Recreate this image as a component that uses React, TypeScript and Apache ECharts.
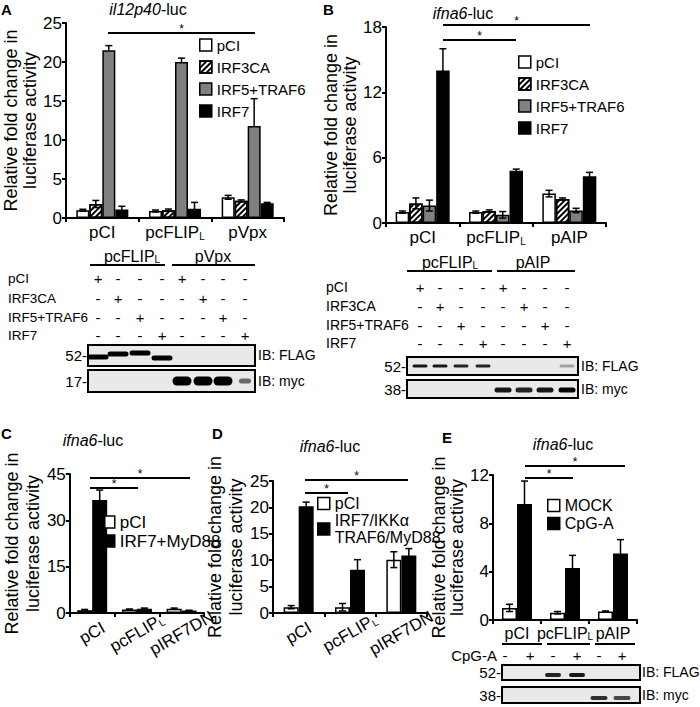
import React, { useEffect, useRef } from 'react';
import * as echarts from 'echarts';

const FONT = '"Liberation Sans", Arial, Helvetica, sans-serif';

// ---------- Panel A (il12p40-luc) ----------
const namesAB = ['pCI', 'IRF3CA', 'IRF5+TRAF6', 'IRF7'];
const catsA = ['pCI', 'pcFLIPL', 'pVpx'];
const aPCI = [1.0, 0.9, 2.65];
const aPCIErr = [0.12, 0.12, 0.25];
const aIRF3CA = [1.8, 1.0, 2.2];
const aIRF3CAErr = [0.45, 0.15, 0.12];
const aIRF5 = [21.5, 20.0, 11.8];
const aIRF5Err = [0.6, 0.5, 3.5];
const aIRF7 = [1.1, 1.2, 1.9];
const aIRF7Err = [0.4, 0.8, 0.1];

// ---------- Panel B (ifna6-luc) ----------
const catsB = ['pCI', 'pcFLIPL', 'pAIP'];
const bPCI = [1.0, 1.0, 2.7];
const bPCIErr = [0.1, 0.1, 0.3];
const bIRF3CA = [1.8, 1.1, 2.2];
const bIRF3CAErr = [0.5, 0.1, 0.1];
const bIRF5 = [1.6, 0.75, 1.15];
const bIRF5Err = [0.5, 0.3, 0.2];
const bIRF7 = [14.0, 4.8, 4.3];
const bIRF7Err = [2.0, 0.15, 0.35];

// ---------- Panel C ----------
const namesC = ['pCI', 'IRF7+MyD88'];
const catsC = ['pCI', 'pcFLIPL', 'pIRF7DN'];
const cPCI = [0.9, 1.1, 1.4];
const cPCIErr = [0.25, 0.2, 0.2];
const cIRF7 = [36.6, 1.4, 0.8];
const cIRF7Err = [3.2, 0.2, 0.1];

// ---------- Panel D ----------
const namesD = ['pCI', 'IRF7/IKKα\nTRAF6/MyD88'];
const catsD = ['pCI', 'pcFLIPL', 'pIRF7DN'];
const dPCI = [1.1, 1.1, 10.1];
const dPCIErr = [0.3, 0.7, 1.5];
const dIRF7 = [20.2, 8.2, 10.9];
const dIRF7Err = [0.8, 1.9, 1.3];

// ---------- Panel E ----------
const namesE = ['MOCK', 'CpG-A'];
const catsE = ['pCI', 'pcFLIPL', 'pAIP'];
const eMOCK = [1.0, 0.6, 0.7];
const eMOCKErr = [0.3, 0.1, 0.05];
const eCpG = [9.6, 4.3, 5.5];
const eCpGErr = [1.9, 1.05, 1.15];

// ---------- Blots ----------
const blotRowsAB = ['pCI', 'IRF3CA', 'IRF5+TRAF6', 'IRF7'];
const blotSignsAB = [
  ['+', '-', '-', '-', '+', '-', '-', '-'],
  ['-', '+', '-', '-', '-', '+', '-', '-'],
  ['-', '-', '+', '-', '-', '-', '+', '-'],
  ['-', '-', '-', '+', '-', '-', '-', '+'],
];
const blotSignsE = ['-', '+', '-', '+', '-', '+'];
const aFlag = [1, 1, 1, 1, 0, 0, 0, 0];
const aMyc = [0, 0, 0, 0, 1, 1, 1, 0.55];
const bFlag = [0.9, 0.9, 0.85, 0.85, 0, 0, 0, 0.3];
const bMyc = [0, 0, 0, 0, 0.9, 0.85, 0.9, 1];
const eFlag = [0, 0, 0.85, 0.9, 0, 0];
const eMyc = [0, 0, 0, 0, 0.8, 0.7];

const styleWhite = { color: '#ffffff', borderColor: '#000', borderWidth: 1.5 };
const styleHatch = {
  color: '#ffffff', borderColor: '#000', borderWidth: 1.5,
  decal: { symbol: 'rect', symbolSize: 1, color: '#000', dashArrayX: [1, 0], dashArrayY: [1.5, 2], rotation: -Math.PI / 4 },
};
const styleGrey = { color: '#808080', borderColor: '#000', borderWidth: 1.5 };
const styleBlack = { color: '#000000', borderColor: '#000', borderWidth: 1.5 };

function panelSeries(g: number, names: string[], vals: number[][], errs: number[][], styles: any[], barW: number, lowerOk: boolean[]) {
  const out: any[] = [];
  const n = names.length;
  names.forEach((nm, j) => {
    out.push({
      type: 'bar', name: nm, xAxisIndex: g, yAxisIndex: g, data: vals[j],
      barWidth: barW, barGap: '0%', itemStyle: styles[j], z: 2,
    });
  });
  names.forEach((nm, j) => {
    const off = (j - (n - 1) / 2) * barW;
    out.push({
      type: 'custom', name: 'err' + g + '_' + j, xAxisIndex: g, yAxisIndex: g, z: 5,
      data: vals[j].map((v, i) => [i, v, errs[j][i]]),
      renderItem: (params: any, api: any) => {
        const i = api.value(0), v = api.value(1), e = api.value(2);
        const c = api.coord([i, v]);
        const t = api.coord([i, v + e]);
        const b = api.coord([i, Math.max(0, v - e)]);
        const x = c[0] + off;
        const st = { stroke: '#000', lineWidth: 1.5 };
        const ch: any[] = [
          { type: 'line', shape: { x1: x, y1: t[1], x2: x, y2: lowerOk[j] ? b[1] : c[1] }, style: st },
          { type: 'line', shape: { x1: x - 3.5, y1: t[1], x2: x + 3.5, y2: t[1] }, style: st },
        ];
        if (lowerOk[j]) ch.push({ type: 'line', shape: { x1: x - 3.5, y1: b[1], x2: x + 3.5, y2: b[1] }, style: st });
        return { type: 'group', children: ch };
      },
    });
  });
  return out;
}

const catFmt = (v: string) => (v === 'pcFLIPL' ? '{a|pcFLIP}{s|L}' : '{a|' + v + '}');

function xAx(g: number, cats: string[], rotate: number, size: number, margin: number) {
  return {
    gridIndex: g, type: 'category', data: cats,
    axisLine: { show: true, lineStyle: { color: '#000', width: 2 } },
    axisTick: { show: true, length: 4, lineStyle: { color: '#000', width: 2 } },
    axisLabel: {
      interval: 0, rotate, margin, color: '#000', fontFamily: FONT, formatter: catFmt,
      align: rotate ? 'center' : undefined, verticalAlign: rotate ? 'middle' : undefined,
      rich: {
        a: { fontSize: size, fontFamily: FONT, color: '#000' },
        s: { fontSize: 10, fontFamily: FONT, color: '#000', verticalAlign: 'bottom', lineHeight: 12 },
      },
    },
  };
}
function yAx(g: number, max: number, interval: number, gap: number, lh: number) {
  return {
    gridIndex: g, type: 'value', min: 0, max, interval,
    axisLine: { show: true, lineStyle: { color: '#000', width: 2 } },
    axisTick: { show: true, length: 4, lineStyle: { color: '#000', width: 2 } },
    splitLine: { show: false },
    axisLabel: { fontSize: 17, color: '#000', fontFamily: FONT, margin: 4 },
    name: 'Relative fold change in\nluciferase activity', nameLocation: 'middle', nameRotate: 90, nameGap: gap,
    nameTextStyle: { fontSize: 18, lineHeight: lh, fontFamily: FONT, color: '#000' },
  };
}

function legend(left: number, top: number, names: string[], size: number, gap: number, iw = 12) {
  return {
    left, top, padding: 0, orient: 'vertical', itemWidth: iw, itemHeight: 12, itemGap: gap, selectedMode: false,
    icon: 'rect', data: names,
    itemStyle: { borderColor: '#000', borderWidth: 1.5 },
    textStyle: { fontSize: size, fontFamily: FONT, color: '#000', lineHeight: size + 1 },
  };
}

const T = (x: number, y: number, text: string, o: any = {}) => ({
  type: 'text', x, y, silent: true,
  style: {
    text, fontSize: o.size ?? 15, fontFamily: FONT, fontWeight: o.weight ?? 'normal', fontStyle: o.style ?? 'normal',
    fill: '#000', align: o.align ?? 'left', textAlign: o.align ?? 'left', verticalAlign: 'middle', textVerticalAlign: 'middle',
    rich: o.rich,
  },
});
const L = (x1: number, y1: number, x2: number, y2: number, w = 2) => ({
  type: 'line', silent: true, shape: { x1, y1, x2, y2 }, style: { stroke: '#000', lineWidth: w },
});
const R = (x: number, y: number, w: number, h: number) => ({
  type: 'rect', silent: true, shape: { x, y, width: w, height: h }, style: { fill: '#e9e9e9', stroke: '#000', lineWidth: 2 },
});
const band = (cx: number, cy: number, w: number, h: number, a: number) => ({
  type: 'rect', silent: true, shape: { x: cx - w / 2, y: cy - h / 2, width: w, height: h, r: h / 2 },
  style: { fill: `rgba(0,0,0,${a})` },
});

const subRich = {
  a: { fontSize: 16, fontFamily: FONT, fill: '#000', color: '#000' },
  s: { fontSize: 10, fontFamily: FONT, fill: '#000', color: '#000', verticalAlign: 'bottom', lineHeight: 12 },
};
const titleRich = (size: number) => ({
  i: { fontSize: size, fontFamily: FONT, fontStyle: 'italic', color: '#000', fill: '#000' },
  n: { fontSize: size, fontFamily: FONT, color: '#000', fill: '#000' },
});

function buildGraphics() {
  const g: any[] = [];
  // panel letters
  g.push(T(1, 9, 'A', { weight: 'bold', size: 15 }));
  g.push(T(323, 9, 'B', { weight: 'bold', size: 15 }));
  g.push(T(1, 433, 'C', { weight: 'bold', size: 15 }));
  g.push(T(212, 433, 'D', { weight: 'bold', size: 15 }));
  g.push(T(442, 437, 'E', { weight: 'bold', size: 15 }));
  // titles
  g.push(T(148, 9, '{i|il12p40}{n|-luc}', { align: 'center', rich: titleRich(16) }));
  g.push(T(463, 13, '{i|ifna6}{n|-luc}', { align: 'center', rich: titleRich(16) }));
  g.push(T(93, 440, '{i|ifna6}{n|-luc}', { align: 'center', rich: titleRich(16) }));
  g.push(T(330, 446, '{i|ifna6}{n|-luc}', { align: 'center', rich: titleRich(16) }));
  g.push(T(563, 444, '{i|ifna6}{n|-luc}', { align: 'center', rich: titleRich(16) }));
  // significance brackets
  const sig = (x1: number, x2: number, y: number) => {
    g.push(L(x1, y, x2, y, 2));
    g.push(T((x1 + x2) / 2, y - 4.5, '*', { align: 'center', size: 12 }));
  };
  sig(108, 255, 33);
  sig(443, 590, 25); sig(443, 516, 40);
  sig(90, 190, 478); sig(90, 138, 488);
  sig(305, 408, 480); sig(305, 348, 493);
  sig(525, 625, 466); sig(525, 573, 478);

  // ---- Blot A ----
  g.push(T(132, 256, '{a|pcFLIP}{s|L}', { align: 'center', rich: subRich }));
  g.push(T(213, 256, 'pVpx', { align: 'center', size: 16 }));
  g.push(L(90, 265, 165, 265)); g.push(L(172, 265, 255, 265));
  const lanesA = [98, 118, 140, 162, 182, 203, 223, 245];
  const rowsAy = [278, 298, 317, 335];
  blotRowsAB.forEach((r, i) => {
    g.push(T(8, rowsAy[i], r, { size: 13.5 }));
    blotSignsAB[i].forEach((s, k) => g.push(T(lanesA[k], rowsAy[i], s, { align: 'center', size: 15 })));
  });
  g.push(R(88, 345, 167, 21)); g.push(R(88, 370, 167, 22));
  g.push(T(87, 355, '52-', { align: 'right', size: 15 }));
  g.push(T(87, 381, '17-', { align: 'right', size: 15 }));
  g.push(T(258, 355, 'IB: FLAG', { size: 14 }));
  g.push(T(258, 381, 'IB: myc', { size: 14 }));
  const flagAy = [357, 354, 353, 358];
  aFlag.forEach((a, k) => { if (a > 0) g.push(band(lanesA[k], flagAy[k] ?? 355, 21, 5, a)); });
  aMyc.forEach((a, k) => { if (a > 0) g.push(band(lanesA[k], 381, a < 1 ? 12 : 19, a < 1 ? 5 : 9, a)); });

  // ---- Blot B ----
  g.push(T(450, 262, '{a|pcFLIP}{s|L}', { align: 'center', rich: subRich }));
  g.push(T(533, 262, 'pAIP', { align: 'center', size: 16 }));
  g.push(L(407, 271, 492, 271)); g.push(L(497, 271, 575, 271));
  const lanesB = [420, 440, 461, 483, 503, 524, 545, 567];
  const rowsBy = [287, 306, 325, 343];
  blotRowsAB.forEach((r, i) => {
    g.push(T(326, rowsBy[i], r, { size: 14 }));
    blotSignsAB[i].forEach((s, k) => g.push(T(lanesB[k], rowsBy[i], s, { align: 'center', size: 15 })));
  });
  g.push(R(407, 357, 171, 18)); g.push(R(407, 380, 171, 18));
  g.push(T(406, 366, '52-', { align: 'right', size: 15 }));
  g.push(T(406, 389, '38-', { align: 'right', size: 15 }));
  g.push(T(581, 366, 'IB: FLAG', { size: 14 }));
  g.push(T(581, 389, 'IB: myc', { size: 14 }));
  bFlag.forEach((a, k) => { if (a > 0) g.push(band(lanesB[k], 366, 15, 3, a)); });
  bMyc.forEach((a, k) => { if (a > 0) g.push(band(lanesB[k], 390, 17, 5, a)); });

  // ---- Blot E ----
  const lanesE = [505, 530, 553, 577, 599, 622];
  g.push(L(502, 644, 542, 644)); g.push(L(547, 644, 590, 644)); g.push(L(595, 644, 635, 644));
  g.push(T(497, 655, 'CpG-A', { align: 'right', size: 15 }));
  blotSignsE.forEach((s, k) => g.push(T(lanesE[k], 655, s, { align: 'center', size: 15 })));
  g.push(R(502, 665, 138, 15)); g.push(R(502, 687, 138, 16));
  g.push(T(501, 672, '52-', { align: 'right', size: 15 }));
  g.push(T(501, 695, '38-', { align: 'right', size: 15 }));
  g.push(T(642, 672, 'IB: FLAG', { size: 14 }));
  g.push(T(642, 695, 'IB: myc', { size: 14 }));
  eFlag.forEach((a, k) => { if (a > 0) g.push(band(lanesE[k], 675, 16, 4, a)); });
  eMyc.forEach((a, k) => { if (a > 0) g.push(band(lanesE[k], 698, 17, 4, a)); });
  return g;
}

export default function App() {
  const ref = useRef<HTMLDivElement>(null);
  useEffect(() => {
    if (!ref.current) return;
    const chart = echarts.init(ref.current, null, { renderer: 'svg' });
    const series = [
      ...panelSeries(0, namesAB, [aPCI, aIRF3CA, aIRF5, aIRF7], [aPCIErr, aIRF3CAErr, aIRF5Err, aIRF7Err],
        [styleWhite, styleHatch, styleGrey, styleBlack], 13, [true, true, false, true]),
      ...panelSeries(1, namesAB, [bPCI, bIRF3CA, bIRF5, bIRF7], [bPCIErr, bIRF3CAErr, bIRF5Err, bIRF7Err],
        [styleWhite, styleHatch, styleGrey, styleBlack], 13.5, [true, true, true, true]),
      ...panelSeries(2, namesC, [cPCI, cIRF7], [cPCIErr, cIRF7Err], [styleWhite, styleBlack], 15, [true, true]),
      ...panelSeries(3, namesD, [dPCI, dIRF7], [dPCIErr, dIRF7Err], [styleWhite, styleBlack], 15, [true, true]),
      ...panelSeries(4, namesE, [eMOCK, eCpG], [eMOCKErr, eCpGErr], [styleWhite, styleBlack], 15, [true, true]),
    ];
    chart.setOption({
      animation: false,
      backgroundColor: '#ffffff',
      grid: [
        { left: 66, top: 23, width: 218, height: 195 },
        { left: 386, top: 27, width: 220, height: 196 },
        { left: 60, top: 474, width: 144, height: 139 },
        { left: 273, top: 481, width: 154, height: 132 },
        { left: 493, top: 475, width: 144, height: 145 },
      ],
      xAxis: [
        xAx(0, catsA, 0, 17, 6),
        xAx(1, catsB, 0, 17, 6),
        xAx(2, catsC, 30, 17, 20),
        xAx(3, catsD, 30, 17, 20),
        xAx(4, catsE, 0, 16, 5),
      ],
      yAxis: [
        yAx(0, 25, 5, 27, 19),
        yAx(1, 18, 6, 23, 19),
        yAx(2, 45, 15, 21, 21),
        yAx(3, 25, 5, 17, 21),
        yAx(4, 12, 4, 18, 18),
      ],
      legend: [
        legend(199, 37, namesAB, 15, 6),
        legend(518, 54, namesAB, 15, 6),
        legend(104, 513, namesC, 17, 1, 10),
        legend(317, 495, namesD, 16, 0),
        legend(547, 497, namesE, 16, 1),
      ],
      series,
      graphic: { elements: buildGraphics() },
    });
    return () => chart.dispose();
  }, []);
  return <div ref={ref} style={{ position: 'fixed', left: 0, top: 0, width: 700, height: 707, background: '#fff' }} />;
}
